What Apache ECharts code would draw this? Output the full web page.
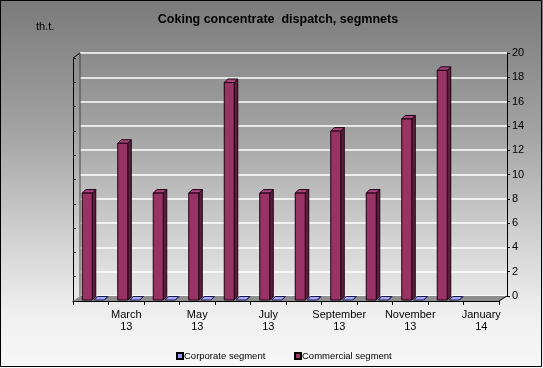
<!DOCTYPE html>
<html><head><meta charset="utf-8">
<script src="https://cdn.jsdelivr.net/npm/echarts@6/dist/echarts.min.js"></script>
<style>
html,body{margin:0;padding:0;background:#fff}
#c{width:543px;height:368px;background:linear-gradient(to bottom,#7a7a7a 0%,#a2a2a2 35%,#d2d2d2 65%,#efefef 85%,#f7f7f7 100%)}
</style>
</head><body><div id="c"></div>
<script>
const categories = ['February\n13','March\n13','April\n13','May\n13','June\n13','July\n13','August\n13','September\n13','October\n13','November\n13','December\n13','January\n14'];
const corporate = [0,0,0,0,0,0,0,0,0,0,0,null];
const commercial = [8.8,12.9,8.8,8.8,17.9,8.8,8.8,13.9,8.8,14.9,18.9,null];
const yMin = 0, yMax = 20, yStep = 2;
const titleText = 'Coking concentrate  dispatch, segmnets';
const unitText = 'th.t.';
const seriesNames = ['Corporate segment','Commercial segment'];

const FONT = 'Liberation Sans, Arial, sans-serif';

function make3D(offset, front, side, topc, stroke){
  return function(params, api){
    const v = api.value(1);
    if (v === null || v === undefined || isNaN(v)) return;
    const i = api.value(0);
    const b = api.coord([i, 0]);
    const t = api.coord([i, v]);
    const w = 10, dx = 3.5, dy = -3.5;
    const x0 = b[0] + offset, y0 = b[1], y1 = t[1];
    const children = [
      {type:'polygon', shape:{points:[[x0+w,y0],[x0+w+dx,y0+dy],[x0+w+dx,y1+dy],[x0+w,y1]]}, style:{fill:side, stroke:stroke, lineWidth:1}},
      {type:'polygon', shape:{points:[[x0,y1],[x0+dx,y1+dy],[x0+w+dx,y1+dy],[x0+w,y1]]}, style:{fill:topc, stroke:stroke, lineWidth:1}}
    ];
    if (y0 - y1 > 0.5) children.push({type:'rect', shape:{x:x0, y:y1, width:w, height:y0-y1}, style:{fill:front, stroke:stroke, lineWidth:1}});
    return {type:'group', children:children};
  };
}

const legendText = {color:'#000', fontSize:9.5, fontFamily:FONT, padding:[0,0,0,-4]};
const chart = echarts.init(document.getElementById('c'), null, {renderer:'canvas'});
chart.setOption({
  backgroundColor:'transparent',
  animation:false,
  textStyle:{fontFamily:FONT},
  grid:[
    {left:80, top:53, width:427, height:243},
    {left:73, top:58, width:426, height:243},
    {left:75, top:57, width:426, height:243}
  ],
  xAxis:[
    {gridIndex:0, type:'category', data:categories, show:false},
    {gridIndex:1, type:'category', data:categories, position:'bottom',
      axisLine:{show:true, lineStyle:{color:'#000', width:1}},
      axisTick:{show:true, interval:0, length:4, lineStyle:{color:'#000'}},
      axisLabel:{interval:function(i){return i%2===1;}, color:'#000', fontSize:11, lineHeight:12, margin:8, fontFamily:FONT},
      splitLine:{show:false}},
    {gridIndex:2, type:'category', data:categories, show:false}
  ],
  yAxis:[
    {gridIndex:0, type:'value', min:yMin, max:yMax, interval:yStep, position:'right',
      axisLine:{show:true, lineStyle:{color:'#000'}},
      axisTick:{show:true, length:3, lineStyle:{color:'#000'}},
      axisLabel:{color:'#000', fontSize:11, margin:5, fontFamily:FONT},
      splitLine:{show:true, lineStyle:{color:'#ffffff', width:1.5}}},
    {gridIndex:1, type:'value', min:yMin, max:yMax, interval:yStep, position:'left',
      axisLine:{show:true, lineStyle:{color:'#000'}},
      axisTick:{show:true, inside:true, length:3, lineStyle:{color:'#333'}},
      axisLabel:{show:false}, splitLine:{show:false}},
    {gridIndex:2, type:'value', min:yMin, max:yMax, show:false, splitLine:{show:false}}
  ],
  legend:[
    {left:171, top:346, itemWidth:6, itemHeight:6, icon:'rect', textStyle:legendText, data:[seriesNames[0]]},
    {left:289, top:346, itemWidth:6, itemHeight:6, icon:'rect', textStyle:legendText, data:[seriesNames[1]]}
  ],
  graphic:[
    {type:'polygon', z:1, shape:{points:[[73,301],[80,296],[507,296],[499,301]]}, style:{fill:'#8e8e8e'}},
    {type:'line', z:3, shape:{x1:73,y1:58,x2:80,y2:53}, style:{stroke:'#000', lineWidth:1}},
    {type:'line', z:3, shape:{x1:80,y1:53,x2:80,y2:296}, style:{stroke:'#444', lineWidth:1}},
    {type:'line', z:3, shape:{x1:507,y1:296,x2:499,y2:301}, style:{stroke:'#000', lineWidth:1}},
    {type:'text', z:5, x:278, y:20, style:{text:titleText, align:'center', verticalAlign:'middle', fill:'#000', font:'bold 12.5px '+FONT}},
    {type:'text', z:5, x:36, y:27, style:{text:unitText, align:'left', verticalAlign:'middle', fill:'#000', font:'11px '+FONT}},
    {type:'rect', z:10, shape:{x:0.5, y:0.5, width:541, height:366}, style:{fill:null, stroke:'#000', lineWidth:1}}
  ],
  series:[
    {name:seriesNames[0], type:'custom', xAxisIndex:2, yAxisIndex:2, z:4,
      itemStyle:{color:'#9999ff', borderColor:'#000', borderWidth:1},
      renderItem:make3D(1.5,'#9999ff','#5c5cb0','#a8a8ff','#1a1a4a'),
      data:corporate.map(function(v,i){return [i,v];})},
    {name:seriesNames[1], type:'custom', xAxisIndex:2, yAxisIndex:2, z:4,
      itemStyle:{color:'#993366', borderColor:'#000', borderWidth:1},
      renderItem:make3D(-10.5,'#993366','#5e1f3f','#a8447a','#1a0010'),
      data:commercial.map(function(v,i){return [i,v];})}
  ]
});
</script>
</body></html>
